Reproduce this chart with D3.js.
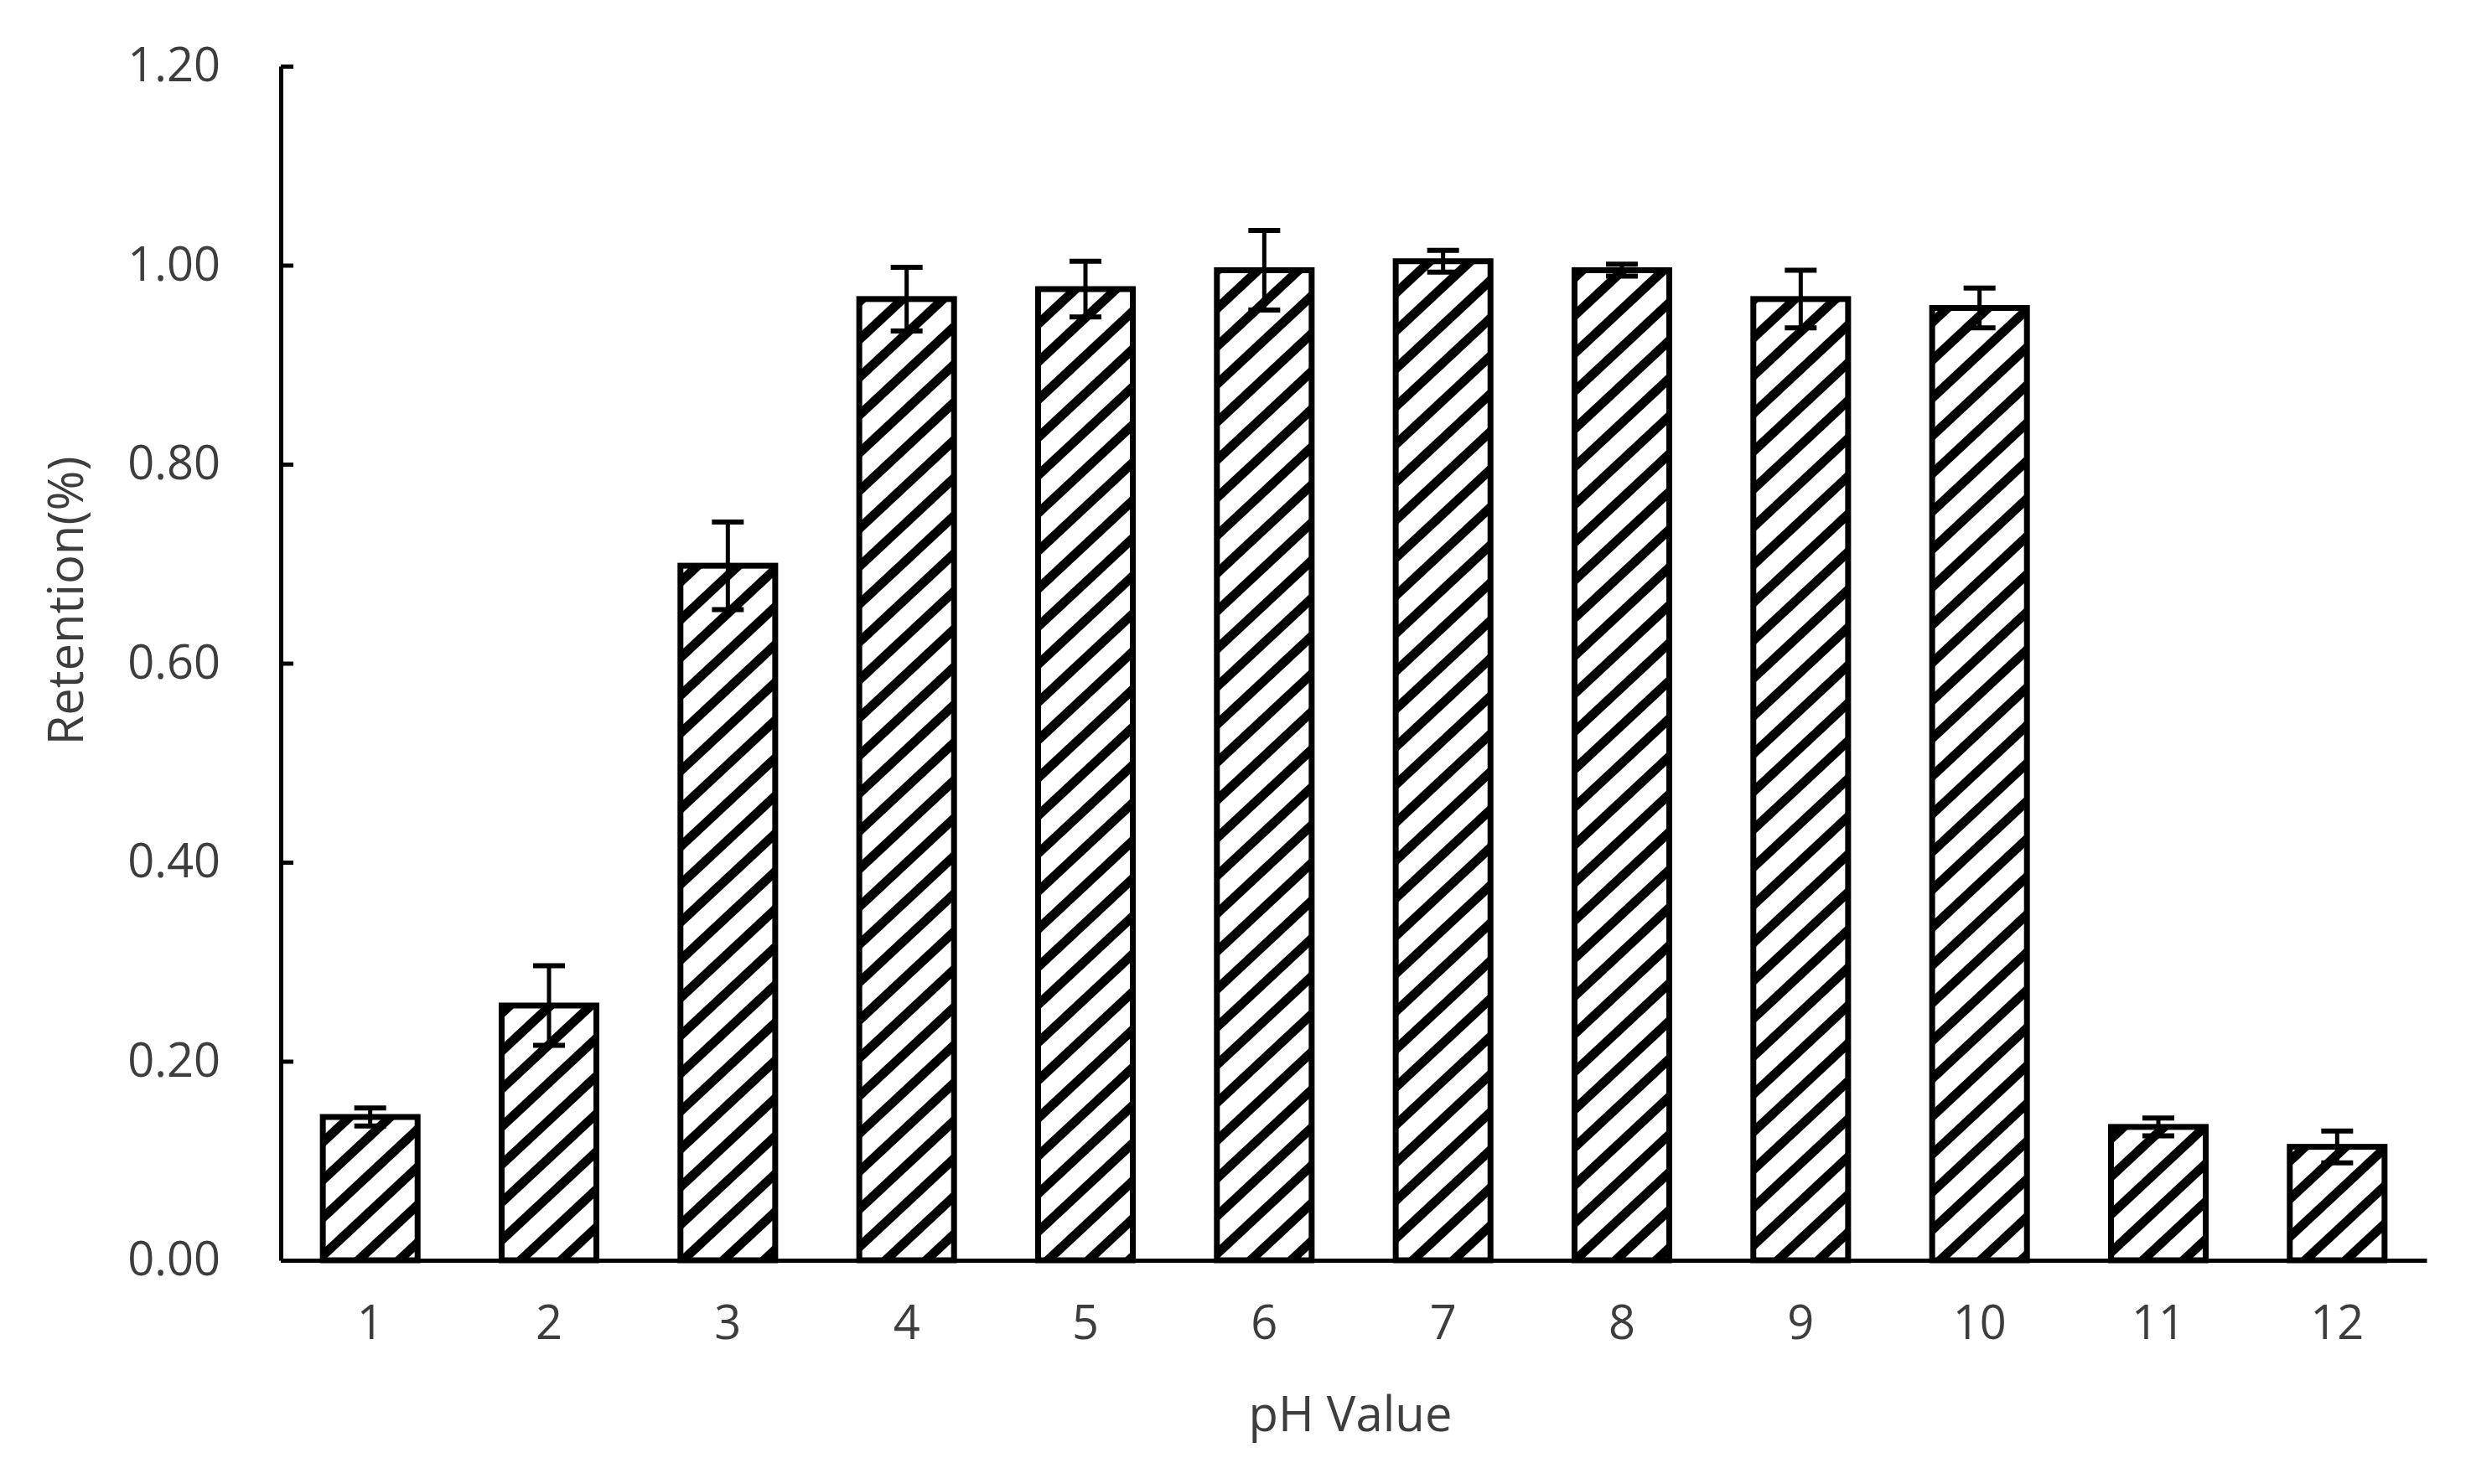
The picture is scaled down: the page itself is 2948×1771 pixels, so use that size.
<!DOCTYPE html>
<html>
<head>
<meta charset="utf-8">
<script src="https://cdn.jsdelivr.net/npm/d3@7"></script>
<style>
  html, body { margin: 0; padding: 0; background: #fff; }
  svg { display: block; }
  text { font-family: "Open Sans", "Noto Sans", sans-serif; }
</style>
</head>
<body>
<svg id="chart" width="2948" height="1771"></svg>
<script>
// ---- data ----
const categories = ["1", "2", "3", "4", "5", "6", "7", "8", "9", "10", "11", "12"];
const values = [0.144, 0.256, 0.698, 0.966, 0.976, 0.995, 1.004, 0.995, 0.966, 0.957, 0.134, 0.114];
const errors = [0.009, 0.040, 0.044, 0.032, 0.028, 0.040, 0.011, 0.006, 0.029, 0.020, 0.009, 0.016];
const yTicks = [0, 0.2, 0.4, 0.6, 0.8, 1.0, 1.2];
const xTitle = "pH Value";
const yTitle = "Retention(%)";

// ---- layout ----
const W = 2948, H = 1771;
const plotLeft = 335, plotRight = 2895, plotTop = 79, plotBottom = 1504;
const textColor = "#3d3d3d";

const svg = d3.select("#chart");
svg.append("rect").attr("width", W).attr("height", H).attr("fill", "#fff");

const defs = svg.append("defs");
const pat = defs.append("pattern")
  .attr("id", "hatch")
  .attr("patternUnits", "userSpaceOnUse")
  .attr("width", 33).attr("height", 33)
  .attr("patternTransform", "rotate(47)");
pat.append("rect").attr("width", 33).attr("height", 33).attr("fill", "#fff");
pat.append("rect").attr("x", 0).attr("y", 0).attr("width", 11).attr("height", 33).attr("fill", "#000");

const x = d3.scaleBand().domain(categories).range([plotLeft, plotRight])
  .paddingInner(0.47).paddingOuter(0.235);
const y = d3.scaleLinear().domain([0, 1.2]).range([plotBottom, plotTop]);

const data = categories.map((c, i) => ({ c, v: values[i], e: errors[i] }));

// bars
svg.append("g").selectAll("rect").data(data).join("rect")
  .attr("x", d => x(d.c))
  .attr("y", d => y(d.v))
  .attr("width", x.bandwidth())
  .attr("height", d => y(0) - y(d.v))
  .attr("fill", "url(#hatch)")
  .attr("stroke", "#000")
  .attr("stroke-width", 7);

// error bars
const eg = svg.append("g").attr("stroke", "#000");
eg.selectAll("line.v").data(data).join("line").attr("class", "v")
  .attr("x1", d => x(d.c) + x.bandwidth() / 2)
  .attr("x2", d => x(d.c) + x.bandwidth() / 2)
  .attr("y1", d => y(d.v + d.e))
  .attr("y2", d => y(d.v - d.e))
  .attr("stroke-width", 5);
const capW = 38;
["hi", "lo"].forEach(k => {
  eg.selectAll("line." + k).data(data).join("line").attr("class", k)
    .attr("x1", d => x(d.c) + x.bandwidth() / 2 - capW / 2)
    .attr("x2", d => x(d.c) + x.bandwidth() / 2 + capW / 2)
    .attr("y1", d => y(k === "hi" ? d.v + d.e : d.v - d.e))
    .attr("y2", d => y(k === "hi" ? d.v + d.e : d.v - d.e))
    .attr("stroke-width", 6);
});

// y axis
const yAxis = svg.append("g").attr("transform", `translate(${plotLeft},0)`)
  .call(d3.axisLeft(y).tickValues(yTicks).tickFormat(d3.format(".2f"))
    .tickSizeInner(-15).tickSizeOuter(0).tickPadding(72));
yAxis.select(".domain").attr("stroke", "#000").attr("stroke-width", 5);
yAxis.selectAll(".tick line").attr("stroke", "#000").attr("stroke-width", 5);
yAxis.selectAll(".tick text").attr("fill", textColor).attr("font-size", 56);

// x axis
const xAxis = svg.append("g").attr("transform", `translate(0,${plotBottom})`)
  .call(d3.axisBottom(x).tickSize(0).tickPadding(54));
xAxis.select(".domain").attr("stroke", "#000").attr("stroke-width", 5);
xAxis.selectAll(".tick text").attr("fill", textColor).attr("font-size", 56);

// titles
svg.append("text").attr("x", 1611).attr("y", 1708)
  .attr("text-anchor", "middle").attr("fill", textColor).attr("font-size", 58)
  .text(xTitle);
svg.append("text").attr("transform", "translate(99,717) rotate(-90)")
  .attr("text-anchor", "middle").attr("fill", textColor).attr("font-size", 58)
  .text(yTitle);
</script>
</body>
</html>
